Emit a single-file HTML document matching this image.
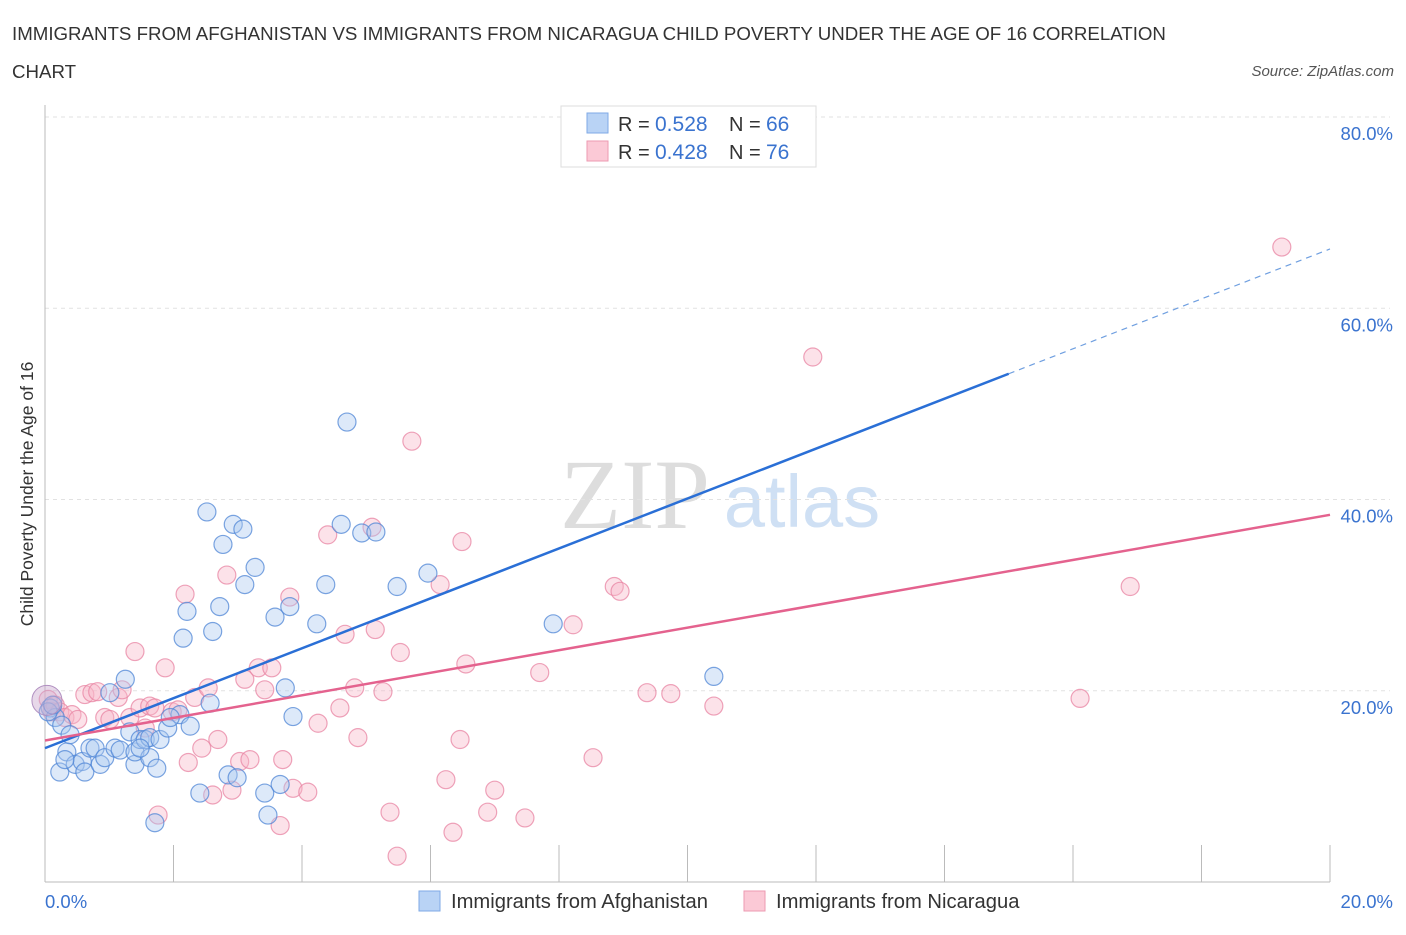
<!DOCTYPE html>
<html><head><meta charset="utf-8"><style>
body{margin:0;background:#fff;width:1406px;height:930px;overflow:hidden;font-family:"Liberation Sans",sans-serif;}
</style></head><body>
<svg id="chart" width="1406" height="930" xmlns="http://www.w3.org/2000/svg" font-family="Liberation Sans, sans-serif">
<text x="12" y="40" font-size="18.7" fill="#333">IMMIGRANTS FROM AFGHANISTAN VS IMMIGRANTS FROM NICARAGUA CHILD POVERTY UNDER THE AGE OF 16 CORRELATION</text>
<text x="12" y="78" font-size="18.7" fill="#333">CHART</text>
<text x="1394" y="76" font-size="15" fill="#555" font-style="italic" text-anchor="end">Source: ZipAtlas.com</text>
<text transform="translate(33,494) rotate(-90)" font-size="17.5" fill="#333" text-anchor="middle">Child Poverty Under the Age of 16</text>
<g>
<text x="635" y="528" font-size="100" fill="#ddd" font-family="Liberation Serif, serif" text-anchor="middle">ZIP</text>
<text x="802" y="527" font-size="74" fill="#cfe0f4" text-anchor="middle">atlas</text>
</g>
<g id="grid"></g><g id="axes"></g><g id="pts"></g><g id="lines"></g>
<g>
<rect x="561" y="106" width="255" height="61" fill="#fff" stroke="#ddd"/>
<rect x="587" y="113" width="21" height="20" fill="#b9d3f5" stroke="#7fa9e6"/>
<text x="618" y="131" font-size="20" fill="#333">R =</text>
<text x="655" y="131" font-size="21" fill="#3a73cf">0.528</text>
<text x="729" y="131" font-size="20" fill="#333">N =</text>
<text x="766" y="131" font-size="21" fill="#3a73cf">66</text>
<rect x="587" y="141" width="21" height="20" fill="#fbc9d6" stroke="#ec9ab2"/>
<text x="618" y="159" font-size="20" fill="#333">R =</text>
<text x="655" y="159" font-size="21" fill="#3a73cf">0.428</text>
<text x="729" y="159" font-size="20" fill="#333">N =</text>
<text x="766" y="159" font-size="21" fill="#3a73cf">76</text>
</g>
<g>
<rect x="419" y="891" width="21" height="20" fill="#b9d3f5" stroke="#7fa9e6"/>
<text x="451" y="908" font-size="20.2" fill="#333">Immigrants from Afghanistan</text>
<rect x="744" y="891" width="21" height="20" fill="#fbc9d6" stroke="#ec9ab2"/>
<text x="776" y="908" font-size="20.2" fill="#333">Immigrants from Nicaragua</text>
</g>
</svg>
<script>
const blueX=[0.08,0.16,0.23,0.26,0.34,0.39,0.47,0.58,0.62,0.70,0.78,0.86,0.93,1.01,1.09,1.17,1.25,1.32,1.40,1.40,1.48,1.56,1.63,1.63,1.71,1.74,1.79,1.91,2.10,2.15,2.21,2.26,2.41,2.52,2.57,2.61,2.72,2.77,2.85,2.93,2.99,3.08,3.11,3.27,3.42,3.47,3.58,3.66,3.74,3.81,3.86,4.23,4.37,4.61,4.70,4.93,5.15,5.48,5.96,7.91,10.41,0.05,0.12,0.31,1.48,1.95];
const blueY=[18.2,17.2,11.5,16.4,13.6,15.4,12.3,12.6,11.5,14.0,14.0,12.3,13.0,19.8,14.0,13.8,21.2,15.7,12.3,13.6,14.9,14.9,13.0,15.1,6.2,11.9,14.9,16.1,17.5,25.5,28.3,16.3,9.3,38.7,18.7,26.2,28.8,35.3,11.2,37.4,10.9,36.9,31.1,32.9,9.3,7.0,27.7,10.2,20.3,28.8,17.3,27.0,31.1,37.4,48.1,36.5,36.6,30.9,32.3,27.0,21.5,17.8,18.5,12.8,14.0,17.2];
const pinkX=[0.05,0.11,0.16,0.23,0.31,0.42,0.51,0.62,0.73,0.82,0.93,1.01,1.14,1.20,1.32,1.40,1.48,1.56,1.63,1.71,1.76,1.87,1.98,2.07,2.18,2.23,2.33,2.44,2.54,2.61,2.69,2.83,2.91,3.03,3.11,3.19,3.32,3.42,3.53,3.66,3.70,3.81,3.86,4.09,4.25,4.40,4.59,4.67,4.82,4.87,5.09,5.14,5.26,5.37,5.53,5.48,5.71,6.15,6.24,6.35,6.46,6.49,6.55,6.89,7.00,7.47,7.70,8.22,8.53,8.86,8.95,9.37,9.74,10.41,11.95,16.11,16.89,19.25];
const pinkY=[19.1,17.8,18.5,17.8,17.2,17.5,17.0,19.6,19.8,19.9,17.2,17.0,19.3,20.1,17.2,24.1,18.2,16.1,18.4,18.2,7.0,22.4,17.8,18.0,30.1,12.5,19.3,14.0,20.3,9.1,14.9,32.1,9.6,12.6,21.2,12.8,22.4,20.1,22.4,5.9,12.8,29.8,9.8,9.4,16.6,36.3,18.2,25.9,20.3,15.1,37.1,26.4,19.9,7.3,24.0,2.7,46.1,31.1,10.7,5.2,14.9,35.6,22.8,7.3,9.6,6.7,21.9,26.9,13.0,30.9,30.4,19.8,19.7,18.4,54.9,19.2,30.9,66.4];
const blueTrend=[14.0,66.2]; const blueSolidEnd=15.0;
const pinkTrend=[14.8,38.4];
const yTicks=[20,40,60,80];
const yTickLabels=["20.0%","40.0%","60.0%","80.0%"];
const xTicks=[0,2,4,6,8,10,12,14,16,18,20];

const NS="http://www.w3.org/2000/svg";
const X0=45,X1=1330,Y0=882,Y80=117;
const sx=v=>X0+(X1-X0)*v/20;
const sy=v=>Y0-(Y0-Y80)*v/80;
function mk(tag,attrs,parent){const e=document.createElementNS(NS,tag);for(const k in attrs)e.setAttribute(k,attrs[k]);parent.appendChild(e);return e;}
const grid=document.getElementById('grid'),axes=document.getElementById('axes'),pts=document.getElementById('pts'),lines=document.getElementById('lines');
yTicks.forEach((t,i)=>{
 const g=mk('line',{x1:X0,x2:X1+60,y1:sy(t),y2:sy(t),stroke:'#e2e2e2','stroke-dasharray':'4,4'},grid);
 
 
 const tx=mk('text',{x:1393,y:sy(t)+23,'font-size':18.5,fill:'#3a73cf','text-anchor':'end'},axes);
 tx.textContent=yTickLabels[i];
 
 
});
mk('line',{x1:X0,x2:X0,y1:105,y2:Y0,stroke:'#bbb'},axes);
mk('line',{x1:X0,x2:X1,y1:Y0,y2:Y0,stroke:'#bbb'},axes);
xTicks.forEach(t=>{
 const l=mk('line',{x1:sx(t),x2:sx(t),y1:845,y2:Y0,stroke:'#bbb'},axes);
 
 
});
const xl0=mk('text',{x:45,y:908,'font-size':18.5,fill:'#3a73cf'},axes);xl0.textContent='0.0%';


const xl1=mk('text',{x:1393,y:908,'font-size':18.5,fill:'#3a73cf','text-anchor':'end'},axes);xl1.textContent='20.0%';


function dots(xs,ys,fill,stroke,name){
 xs.forEach((x,i)=>{
  const c=mk('circle',{cx:sx(x),cy:sy(ys[i]),r:9,fill:fill,'fill-opacity':0.4,stroke:stroke,'stroke-width':1.2,'stroke-opacity':0.75},pts);
  
  
 });
}
dots(pinkX,pinkY,'#f7b6c8','#e884a3','nicaragua-point');
dots(blueX,blueY,'#a9c8f1','#4f86d6','afghanistan-point');
const big=mk('circle',{cx:sx(0.03),cy:sy(19.0),r:15,fill:'#c9a9cf','fill-opacity':0.45,stroke:'#b08fc0'},pts);


const bslope=(blueTrend[1]-blueTrend[0])/20;
const bl=mk('line',{x1:sx(0),y1:sy(blueTrend[0]),x2:sx(blueSolidEnd),y2:sy(blueTrend[0]+bslope*blueSolidEnd),stroke:'#2a6fd6','stroke-width':2.5},lines);


const bd=mk('line',{x1:sx(blueSolidEnd),y1:sy(blueTrend[0]+bslope*blueSolidEnd),x2:sx(20),y2:sy(blueTrend[1]),stroke:'#6f9fe0','stroke-width':1.2,'stroke-dasharray':'6,5'},lines);


const pl=mk('line',{x1:sx(0),y1:sy(pinkTrend[0]),x2:sx(20),y2:sy(pinkTrend[1]),stroke:'#e4628e','stroke-width':2.5},lines);


</script>
</body></html>
